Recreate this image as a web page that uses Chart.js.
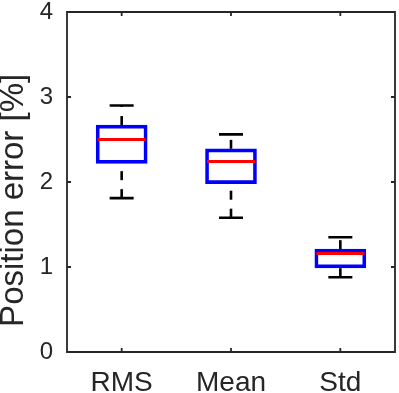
<!DOCTYPE html>
<html>
<head>
<meta charset="utf-8">
<script src="https://cdn.jsdelivr.net/npm/chart.js@4"></script>
<style>
  body { margin: 0; background: #fff; }
</style>
</head>
<body>
<canvas id="myChart" width="399" height="393"></canvas>
<script>
const labels = ['RMS', 'Mean', 'Std'];
const whiskerLow = [1.81, 1.58, 0.88];
const boxLow = [2.22, 1.98, 0.99];
const medians = [2.50, 2.24, 1.16];
const boxHigh = [2.67, 2.39, 1.21];
const whiskerHigh = [2.90, 2.56, 1.35];
const yTicks = [0, 1, 2, 3, 4];

const axisColor = '#262626';
const font = '"Liberation Sans", Arial, Helvetica, sans-serif';

// whiskers: one dataset per box, drawn from bottom to top like matlab
const whiskers = [];
labels.forEach((l, i) => {
    whiskers.push({
        type: 'line',
        data: [{x: l, y: whiskerLow[i]}, {x: l, y: boxLow[i]}],
        borderColor: '#000',
        borderWidth: 2.6,
        borderDash: [9, 9],
        pointRadius: 0
    });
    whiskers.push({
        type: 'line',
        data: [{x: l, y: boxHigh[i]}, {x: l, y: whiskerHigh[i]}],
        borderColor: '#000',
        borderWidth: 2.6,
        borderDash: [9, 9],
        pointRadius: 0
    });
});

// frame around the axes + inward ticks
const frame = {
    id: 'frame',
    afterDraw(chart) {
        const {ctx, chartArea: a, scales} = chart;
        ctx.save();
        ctx.strokeStyle = axisColor;
        ctx.lineWidth = 1.8;
        ctx.beginPath();
        ctx.rect(a.left, a.top, a.right - a.left, a.bottom - a.top);
        ctx.stroke();
        ctx.beginPath();
        const t = 4;
        scales.y.ticks.forEach((_, i) => {
            const y = scales.y.getPixelForTick(i);
            ctx.moveTo(a.left, y); ctx.lineTo(a.left + t, y);
            ctx.moveTo(a.right, y); ctx.lineTo(a.right - t, y);
        });
        scales.x.ticks.forEach((_, i) => {
            const x = scales.x.getPixelForTick(i);
            ctx.moveTo(x, a.top); ctx.lineTo(x, a.top + t);
            ctx.moveTo(x, a.bottom); ctx.lineTo(x, a.bottom - t);
        });
        ctx.stroke();
        ctx.restore();
    }
};

new Chart(document.getElementById('myChart'), {
    type: 'bar',
    data: {
        labels: labels,
        datasets: [
            {
                type: 'line',
                data: medians,
                showLine: false,
                pointStyle: 'line',
                pointRadius: 24,
                pointBorderColor: '#ff0000',
                pointBorderWidth: 3
            },
            {
                type: 'line',
                data: labels.flatMap((l, i) => [{x: l, y: whiskerHigh[i]}, {x: l, y: whiskerLow[i]}]),
                showLine: false,
                pointStyle: 'line',
                pointRadius: 12,
                pointBorderColor: '#000',
                pointBorderWidth: 2.6
            },
            {
                data: labels.map((l, i) => [boxLow[i], boxHigh[i]]),
                backgroundColor: 'rgba(0,0,0,0)',
                borderColor: '#0000ff',
                borderWidth: 3,
                borderSkipped: false,
                barThickness: 51
            },
            ...whiskers
        ]
    },
    options: {
        responsive: false,
        animation: false,
        events: [],
        layout: { autoPadding: false, padding: { left: 0, top: 12, right: 4, bottom: 0 } },
        plugins: { legend: { display: false }, tooltip: { enabled: false } },
        scales: {
            x: {
                grid: { display: false },
                border: { display: false },
                ticks: { color: axisColor, font: { family: font, size: 28 }, padding: 6 },
                afterFit(s) { s.height = 41; s.paddingLeft = 0; s.paddingRight = 0; }
            },
            y: {
                min: 0,
                max: 4,
                afterBuildTicks(s) { s.ticks = yTicks.map(v => ({value: v})); },
                grid: { display: false },
                border: { display: false },
                ticks: { color: axisColor, font: { family: font, size: 24 }, padding: 6 },
                title: {
                    display: true,
                    text: 'Position error [%]    ',
                    color: axisColor,
                    font: { family: font, size: 33, lineHeight: 0.82 },
                    padding: 0
                },
                afterFit(s) { s.width = 67; s.paddingTop = 0; s.paddingBottom = 0; }
            }
        }
    },
    plugins: [frame]
});
</script>
</body>
</html>
